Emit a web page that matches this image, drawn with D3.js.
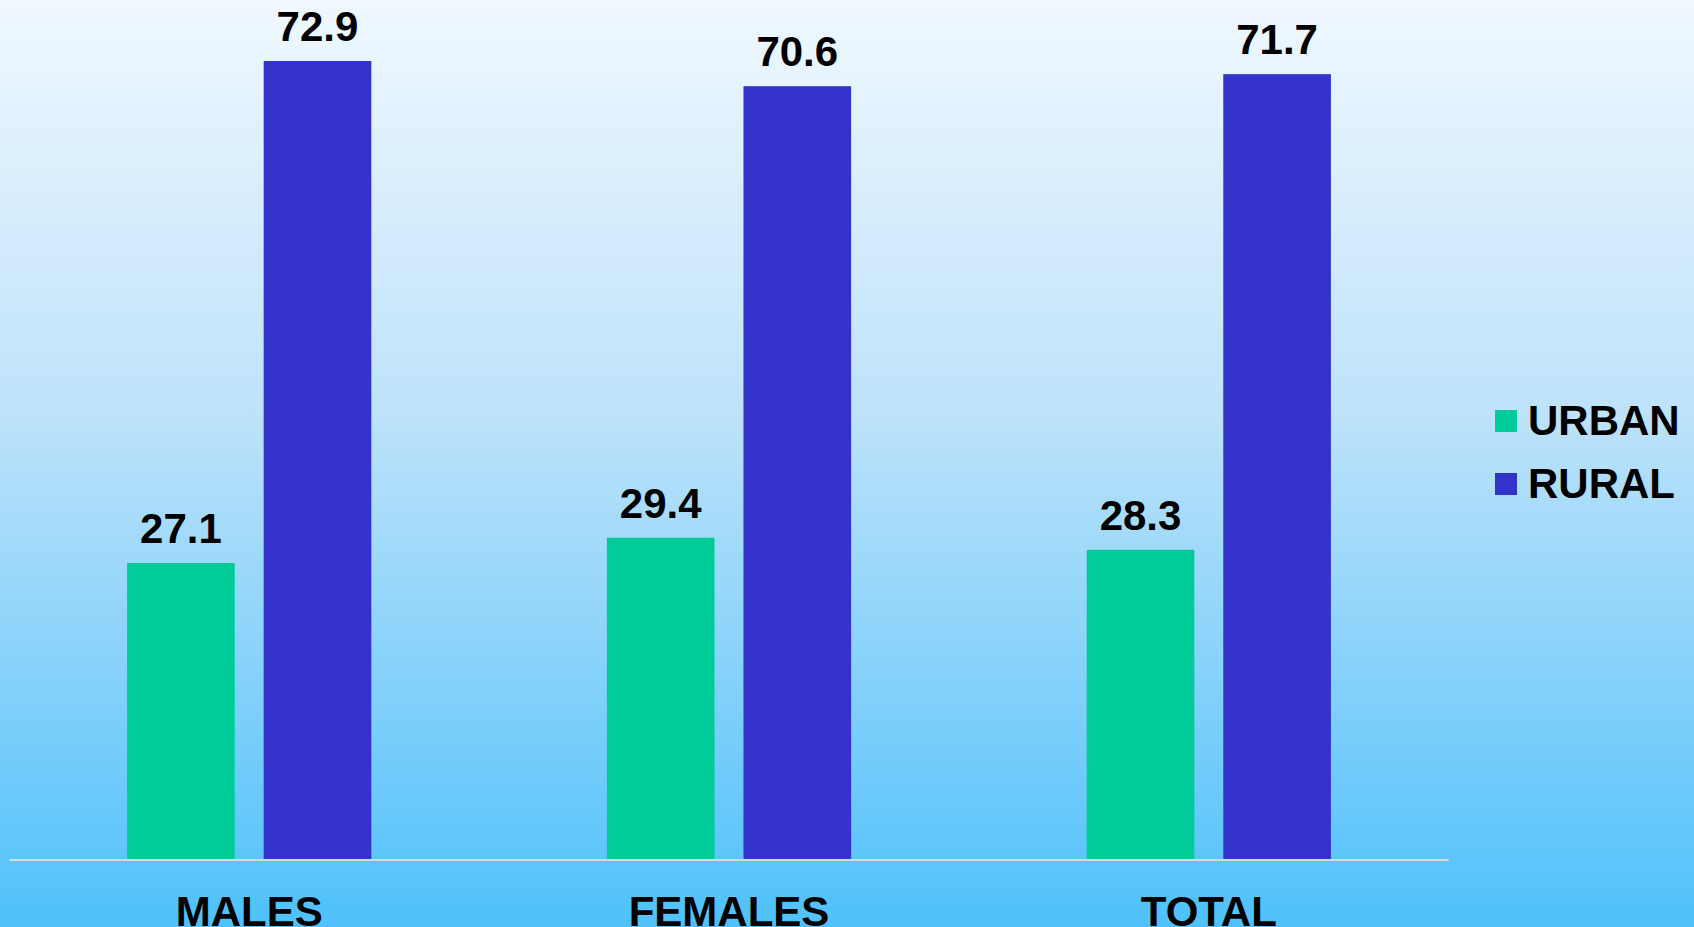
<!DOCTYPE html>
<html>
<head>
<meta charset="utf-8">
<script src="https://cdn.jsdelivr.net/npm/d3@7"></script>
<style>
  html, body { margin: 0; padding: 0; overflow: hidden; }
  svg { display: block; }
  text { font-family: 'Liberation Sans', Arial, sans-serif; font-weight: bold; fill: #000; }
</style>
</head>
<body>
<svg class="chart"></svg>
<script>
const categories = ['MALES', 'FEMALES', 'TOTAL'];
const seriesNames = ['URBAN', 'RURAL'];
const urbanValues = [27.1, 29.4, 28.3];
const ruralValues = [72.9, 70.6, 71.7];
const seriesColors = ['#00cc99', '#3333cc'];

const width = 1694;
const height = 927;
const baseY = 860;

const svg = d3.select('.chart').attr('width', width).attr('height', height);

// background gradient, light at top to sky blue at bottom
const grad = svg.append('defs').append('linearGradient')
    .attr('id', 'bg').attr('x1', 0).attr('y1', 0).attr('x2', 0).attr('y2', 1);
grad.append('stop').attr('offset', '0%').attr('stop-color', '#f0f8ff');
grad.append('stop').attr('offset', '45%').attr('stop-color', '#bde2fa');
grad.append('stop').attr('offset', '100%').attr('stop-color', '#4fc1fa');
svg.append('rect').attr('width', width).attr('height', height).attr('fill', 'url(#bg)');

const x0 = d3.scaleBand().domain(categories).range([9.3, 1448.7])
    .paddingInner(0.491).paddingOuter(0.2455);
const x1 = d3.scaleBand().domain(seriesNames).range([0, x0.bandwidth()])
    .paddingInner(0.212);
const y = d3.scaleLinear().domain([0, 80]).range([baseY, baseY - 80 * 10.96]);

const rows = categories.map((c, i) => ({
    cat: c,
    vals: [
        { key: 'URBAN', value: urbanValues[i] },
        { key: 'RURAL', value: ruralValues[i] }
    ]
}));

const group = svg.selectAll('g.cat').data(rows)
    .enter().append('g')
    .attr('class', 'cat')
    .attr('transform', d => 'translate(' + x0(d.cat) + ',0)');

group.selectAll('rect').data(d => d.vals)
    .enter().append('rect')
    .attr('x', d => x1(d.key))
    .attr('y', d => y(d.value))
    .attr('width', x1.bandwidth())
    .attr('height', d => baseY - y(d.value))
    .attr('fill', (d, i) => seriesColors[i]);

group.selectAll('text.val').data(d => d.vals)
    .enter().append('text')
    .attr('class', 'val')
    .attr('x', d => x1(d.key) + x1.bandwidth() / 2)
    .attr('y', d => y(d.value) - 20)
    .attr('text-anchor', 'middle')
    .style('font-size', '42px')
    .text(d => d.value.toFixed(1));

// category axis
const xAxis = svg.append('g').attr('transform', 'translate(0,' + baseY + ')')
    .call(d3.axisBottom(x0).tickSize(0).tickPadding(0));
xAxis.select('.domain').attr('stroke', '#d9d9d9').attr('stroke-width', 2)
    .attr('d', 'M9.3,0H1448.7');
xAxis.selectAll('.tick text')
    .attr('dy', null)
    .attr('y', 65.5)
    .style('font-size', '42px')
    .style('font-family', "'Liberation Sans', Arial, sans-serif")
    .style('font-weight', 'bold')
    .attr('fill', '#000');

// legend
const legend = svg.append('g').attr('transform', 'translate(1495,410)');
const item = legend.selectAll('g').data(seriesNames)
    .enter().append('g')
    .attr('transform', (d, i) => 'translate(0,' + i * 63 + ')');
item.append('rect')
    .attr('width', 22).attr('height', 22)
    .attr('fill', (d, i) => seriesColors[i]);
item.append('text')
    .attr('x', 33)
    .attr('y', 25)
    .style('font-size', '42px')
    .text(d => d);
</script>
</body>
</html>
